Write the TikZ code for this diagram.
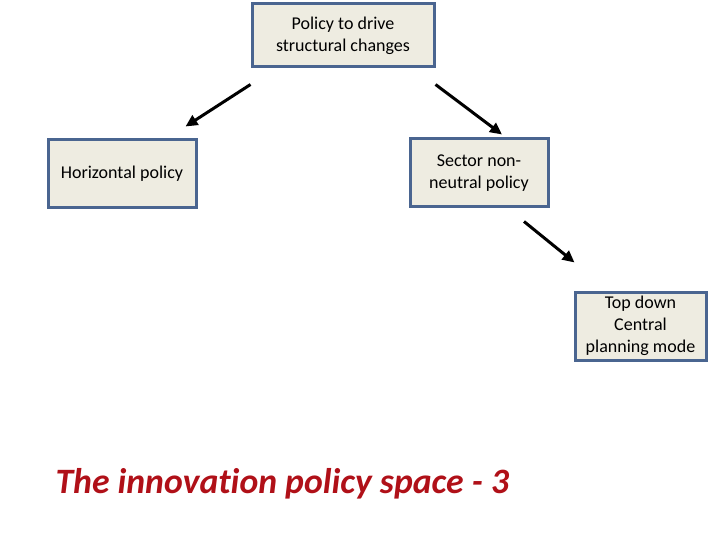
\documentclass[tikz,border=0pt]{standalone}
\usepackage{fontspec}
\setmainfont{Carlito}[Ligatures=NoCommon]
\usetikzlibrary{arrows.meta,calc}
\definecolor{boxfill}{HTML}{EEECE1}
\definecolor{boxline}{HTML}{4A6590}
\definecolor{titlered}{HTML}{B01018}

\begin{document}
\begin{tikzpicture}[x=1pt, y=-1pt,
  policy/.style={draw=boxline, fill=boxfill, line width=3pt, align=center, font=\fontsize{18}{22}\selectfont, inner sep=0pt},
  arr/.style={-{Triangle[length=12pt,width=11pt]}, line width=3pt, black}
]
\useasboundingbox (0,0) rectangle (720,540);
\node[policy, minimum width=182pt, minimum height=63pt] (top)   at (343,35.5) {Policy to drive\\structural changes};
\node[policy, minimum width=148pt, minimum height=68pt] (horiz) at (122,174)  {Horizontal policy};
\node[policy, minimum width=138pt, minimum height=68pt] (sector) at (479,173) {Sector non-\\neutral policy};
\node[policy, minimum width=131pt, minimum height=68pt] (central) at (640.5,326) {Top down\\Central\\planning mode};
\draw[arr] ($(top.south west)+(0,16)$) -- ($(horiz.north east)+(-12,-12)$);
\draw[arr] ($(top.south east)+(0,16)$) -- ($(sector.north)+(23,-3)$);
\draw[arr] ($(sector.south)+(45,13)$) -- ($(central.north west)+(1,-28)$);
\node[anchor=west, text=titlered, font=\fontsize{35.7}{40}\selectfont\bfseries\itshape] (title) at (52,484) {The innovation policy space - 3};
\end{tikzpicture}
\end{document}
